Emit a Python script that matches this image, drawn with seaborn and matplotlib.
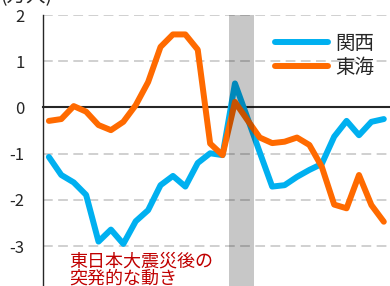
import numpy as np
import pandas as pd
import matplotlib
matplotlib.use("Agg")
import matplotlib.pyplot as plt
import seaborn as sns
from matplotlib.lines import Line2D

# 前年差 (万人), 28期間
kansai = [-1.07, -1.46, -1.62, -1.89, -2.90, -2.64, -2.95, -2.46, -2.22, -1.68,
          -1.48, -1.71, -1.20, -0.99, -1.03, 0.52, -0.22, -0.97, -1.71, -1.68,
          -1.50, -1.35, -1.22, -0.63, -0.29, -0.60, -0.31, -0.25]
tokai = [-0.29, -0.25, 0.03, -0.09, -0.38, -0.49, -0.31, 0.05, 0.55, 1.31,
         1.58, 1.58, 1.25, -0.78, -1.03, 0.12, -0.27, -0.65, -0.77, -0.74,
         -0.65, -0.81, -1.28, -2.10, -2.18, -1.46, -2.11, -2.47]
series_names = ["関西", "東海"]
colors = ["#00B0F0", "#FF6A00"]
y_ticks = [2, 1, 0, -1, -2, -3]
y_labels = ["2", "1", "0", "-1", "-2", "-3"]
band = (14.5, 16.5)  # 震災期間
note = "東日本大震災後の\n突発的な動き"
unit = "(万人)"

n = len(kansai)
df = pd.DataFrame({
    "t": list(range(n)) * 2,
    "value": kansai + tokai,
    "region": [series_names[0]] * n + [series_names[1]] * n,
})

sns.set_style("white")
plt.rcParams["font.family"] = ["Noto Sans CJK JP", "DejaVu Sans"]
plt.rcParams["axes.unicode_minus"] = False

fig = plt.figure(figsize=(3.9, 2.86), dpi=100)
ax = fig.add_axes([42.7 / 390, 0, 1 - 42.7 / 390, 1 - 15 / 286])

sns.lineplot(data=df, x="t", y="value", hue="region", palette=colors,
             linewidth=4.3, ax=ax, legend=False, zorder=3,
             solid_joinstyle="round", solid_capstyle="round")

ax.axvspan(band[0], band[1], color="black", alpha=0.22, lw=0, zorder=4)

ax.set_xlim(-0.5, -0.5 + (390 - 42.7) / 12.45)
ax.set_ylim(-3.86, 2)

# grid
for y in y_ticks:
    if y != 0:
        ax.axhline(y, color="#D0D0D0", lw=1.4, ls=(0, (5, 2.8)), zorder=1)

ax.set_yticks(y_ticks)
ax.set_yticklabels(y_labels)
ax.tick_params(axis="y", length=0, pad=13, labelsize=12)

ax.spines["bottom"].set_position(("data", 0))
ax.spines["bottom"].set_linewidth(1.5)
ax.spines["bottom"].set_zorder(2)
ax.spines["left"].set_linewidth(1.0)
ax.spines["top"].set_visible(False)
ax.spines["right"].set_visible(False)
ax.set_xticks(np.arange(0.5, n, 1))
ax.set_xticklabels([])
ax.tick_params(axis="x", direction="in", length=3.6, width=1.1)
ax.set_xlabel("")
ax.set_ylabel("")

ax.text(1.6, -3.13, note, color="#C00000", fontsize=13, va="top", ha="left",
        linespacing=0.95, zorder=5)
ax.annotate("", xy=(15.3, -3.93), xytext=(12.13, -3.57),
            arrowprops=dict(arrowstyle="-", color="#C00000", lw=1.3))

handles = [Line2D([], [], color=c, lw=4.3, solid_capstyle="round") for c in colors]
fig.legend(handles, series_names, loc="upper left",
           bbox_to_anchor=(275 / 390, 1 - 33 / 286), frameon=False,
           fontsize=14, handlelength=2.7, handletextpad=0.4,
           labelspacing=0.15, borderpad=0, borderaxespad=0)

# 単位ラベル (上端で切れている)
fig.text(0, 1 - 2 / 286, unit, fontsize=14, va="baseline", ha="left")

fig.savefig("out.png", dpi=100)
